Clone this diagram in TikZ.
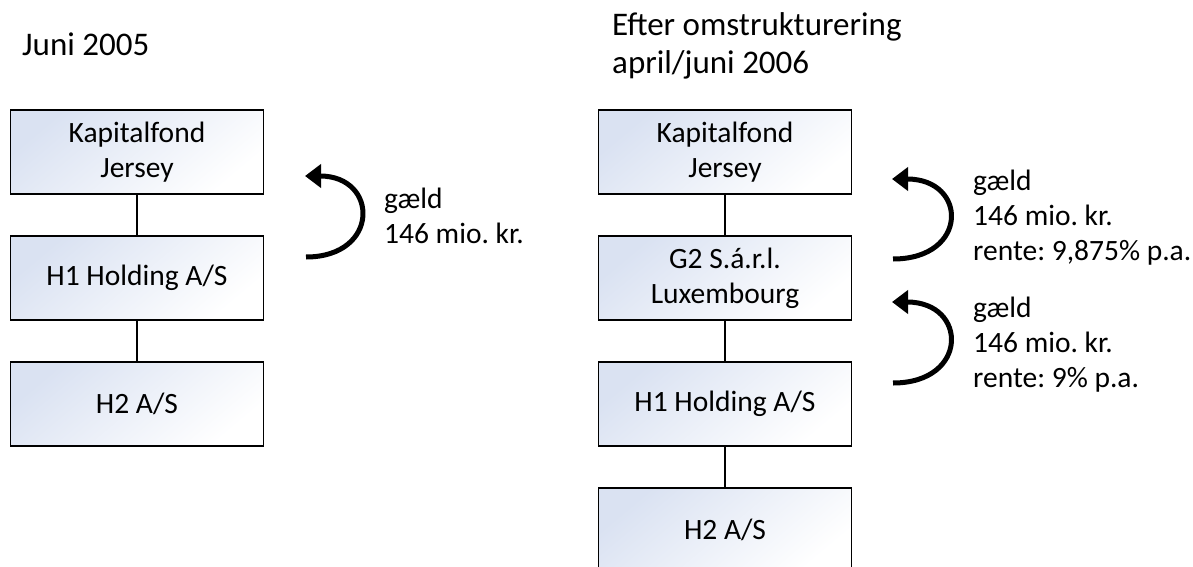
\documentclass[tikz,border=0pt]{standalone}
\usepackage{fontspec}
\setmainfont{Carlito}
\usetikzlibrary{arrows.meta,positioning}
\definecolor{boxtop}{RGB}{218,226,242}
\frenchspacing

\begin{document}
\begin{tikzpicture}[x=1pt,y=-1pt,node distance=126pt,on grid,
   font=\fontsize{29.5}{35}\selectfont,
   firm/.style={draw,line width=1.4pt,minimum width=253pt,minimum height=84pt,
     align=center,top color=boxtop,bottom color=white,shading angle=40},
   loan/.style={line width=5pt,-{Triangle[length=16pt,width=23pt]}},
   note/.style={anchor=base west,align=left,inner sep=0pt},
   heading/.style={note,font=\fontsize{33}{38}\selectfont}]
   \useasboundingbox (0,0) rectangle (1193,567);
   % before
   \node [heading] (t_a) at (22,56) {Juni 2005};
   \node [firm] (k_a) at (137,152) {Kapitalfond\\Jersey};
   \node [firm] (h1_a) [below= of k_a] {H1 Holding A/S};
   \node [firm] (h2_a) [below= of h1_a] {H2 A/S};
   \draw [line width=1.4pt] (k_a) -- (h1_a) (h1_a) -- (h2_a);
   \coordinate (lb_a) at (306,257);
   \coordinate (lt_a) at (305,176);
   \draw [loan] (lb_a) .. controls +(74,0) and +(74,0) .. (lt_a);
   \node [note] (n_a) at (384,243) {gæld\\146 mio. kr.};
   % after
   \node [heading] (t_b) at (612,74) {Efter omstrukturering\\april/juni 2006};
   \node [firm] (k_b) at (725,152) {Kapitalfond\\Jersey};
   \node [firm] (g2_b) [below= of k_b] {G2 S.á.r.l.\\Luxembourg};
   \node [firm] (h1_b) [below= of g2_b] {H1 Holding A/S};
   \node [firm] (h2_b) [below= of h1_b] {H2 A/S};
   \draw [line width=1.4pt] (k_b) -- (g2_b) (g2_b) -- (h1_b) (h1_b) -- (h2_b);
   \coordinate (lb_b) at (893,259);
   \coordinate (lt_b) at (892,179);
   \coordinate (lb_c) at (893,383);
   \coordinate (lt_c) at (892,302);
   \draw [loan] (lb_b) .. controls +(76,0) and +(76,0) .. (lt_b);
   \draw [loan] (lb_c) .. controls +(76,0) and +(76,0) .. (lt_c);
   \node [note] (n_b) at (973,260) {gæld\\146 mio. kr.\\rente: 9,875\% p.a.};
   \node [note] (n_c) at (973,387) {gæld\\146 mio. kr.\\rente: 9\% p.a.};
\end{tikzpicture}
\end{document}
